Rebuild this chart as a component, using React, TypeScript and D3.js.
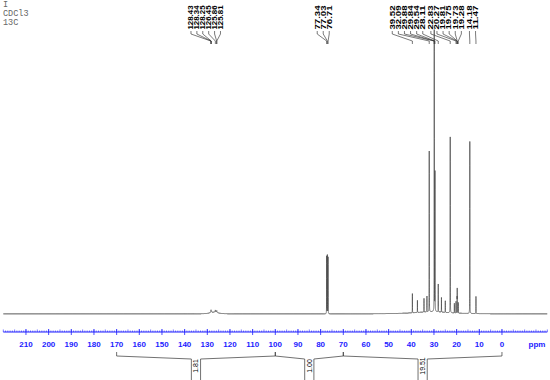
import * as d3 from 'd3';

const W = 550;
const H = 380;

const headerLines = ['I', 'CDCl3', '13C'];

// peak list: shift (ppm) and height (% of tallest line)
const peakPpm = [
  128.43, 128.34, 128.25, 126.45, 125.86, 125.81,
  77.34, 77.03, 76.71,
  39.52, 37.3, 34.4, 33.1, 32.09, 29.88, 29.84, 29.54, 28.11, 26.7, 25.0,
  22.83, 21.0, 20.27, 19.81, 19.75, 19.73, 19.28, 14.18, 11.47,
];
const peakHeight = [
  0.55, 0.5, 0.45, 0.9, 0.45, 0.4,
  22.8, 23.2, 22.4,
  7.6, 4.8, 5.4, 6.2, 63.5, 100, 40, 55, 11, 5.8, 4.6,
  69.5, 3.8, 4.6, 5.4, 5.6, 5.2, 4.2, 68, 6.8,
];

// broad baseline humps (ppm, height %, half width ppm)
const humpPpm = [127, 31];
const humpHeight = [0.7, 0.9];
const humpWidth = [2.2, 9];

// labelled shifts, grouped as in the header
const aromaticLabels = [128.43, 128.34, 128.25, 126.45, 125.86, 125.81];
const solventLabels = [77.34, 77.03, 76.71];
const aliphaticLabels = [39.52, 32.09, 29.88, 29.84, 29.54, 28.11, 22.83, 20.27, 19.81, 19.75, 19.73, 19.28, 14.18, 11.47];

// integrals
const integralFrom = [170, 100, 70];
const integralTo = [100, 70, 0];
const integralValue = ['1.81', '1.00', '19.51'];

const majorTicks = d3.range(210, -1, -10);
const minorTicks = d3.range(220, -21, -1);

const x = d3.scaleLinear().domain([220, -20]).range([3.3, 547.3]);
const y = d3.scaleLinear().domain([0, 100]).range([314, 61]);

const BLUE = '#1c1cff';
const SANS = 'Liberation Sans, Arial, sans-serif';

function intensity(p: number) {
  let v = 0;
  peakPpm.forEach((c, i) => {
    const w = c > 100 && c < 130 ? 0.12 : 0.025;
    const d = (p - c) / w;
    v += peakHeight[i] / (1 + d * d);
  });
  humpPpm.forEach((c, i) => {
    const d = (p - c) / humpWidth[i];
    v += humpHeight[i] / (1 + d * d);
  });
  return v;
}

const samples = d3.range(220, -20, -0.01).concat(peakPpm).sort((a, b) => b - a);
const spectrum = d3
  .line<number>()
  .x((p) => x(p))
  .y((p) => y(intensity(p)))(samples);

type Group = { labels: number[]; startPpm: number; step: number; gaps: number[] };
const groups: Group[] = [
  { labels: aromaticLabels, startPpm: 137.2, step: 5.9, gaps: [] },
  { labels: solventLabels, startPpm: 81.5, step: 6, gaps: [] },
  { labels: aliphaticLabels, startPpm: 48.4, step: 6.1, gaps: [6, 12] },
];

const PeakLabels = ({ g }: { g: Group }) => {
  const x0 = x(g.startPpm);
  return (
    <g>
      {g.labels.map((v, i) => {
        const extra = g.gaps.filter((k) => i >= k).length * 2;
        const lx = x0 + i * g.step + extra;
        const px = x(v);
        return (
          <g key={i}>
            <text
              transform={`translate(${lx + 2.3}, 29.5) rotate(-90)`}
              fontSize="6.6"
              fontWeight="bold"
              fontFamily={SANS}
              textLength="24"
              lengthAdjust="spacingAndGlyphs"
              fill="#000"
            >
              {v.toFixed(2)}
            </text>
            <path
              d={`M${lx},31 L${lx},34 L${px},41 L${px},44`}
              fill="none"
              stroke="#222"
              strokeWidth="0.6"
            />
          </g>
        );
      })}
    </g>
  );
};

export default function App() {
  return (
    <svg width={W} height={H} style={{ position: 'absolute', left: 0, top: 0, background: '#fff' }}>
      {headerLines.map((t, i) => (
        <text key={t} x={3} y={7 + i * 9} fontSize="8.5" fontFamily="Liberation Mono, monospace" fill="#666">
          {t}
        </text>
      ))}

      {groups.map((g, i) => (
        <PeakLabels g={g} key={i} />
      ))}

      <path d={spectrum ?? ''} fill="none" stroke="#444" strokeWidth="0.7" />

      <g className="axis">
        <line x1={x(220)} x2={x(-20)} y1={332} y2={332} stroke={BLUE} strokeWidth="1" />
        {minorTicks.map((t) => (
          <line key={t} x1={x(t)} x2={x(t)} y1={332} y2={t % 5 === 0 ? 329.5 : 330.5} stroke={BLUE} strokeWidth="0.6" />
        ))}
        {majorTicks.map((t) => (
          <g key={t}>
            <line x1={x(t)} x2={x(t)} y1={329} y2={335} stroke={BLUE} strokeWidth="0.8" />
            <text x={x(t)} y={346.5} textAnchor="middle" fontSize="8" fontWeight="bold" fontFamily={SANS} fill={BLUE}>
              {t}
            </text>
          </g>
        ))}
        <text x={537} y={346.5} textAnchor="middle" fontSize="8" fontWeight="bold" fontFamily={SANS} fill={BLUE}>
          ppm
        </text>
      </g>

      {integralValue.map((lab, i) => {
        const xa = x(integralFrom[i]);
        const xb = x(integralTo[i]);
        const xc = x((integralFrom[i] + integralTo[i]) / 2);
        return (
          <g key={lab}>
            <path
              d={`M${xa},352 L${xa},356 L${xc - 4.6},359 L${xc - 4.6},${H} M${xb},352 L${xb},356 L${xc + 4.6},359 L${xc + 4.6},${H}`}
              fill="none"
              stroke="#333"
              strokeWidth="0.7"
            />
            <text
              transform={`translate(${xc + 2.4}, 366) rotate(-90)`}
              textAnchor="middle"
              fontSize="7"
              fontFamily={SANS}
              fill="#000"
            >
              {lab}
            </text>
          </g>
        );
      })}
    </svg>
  );
}
